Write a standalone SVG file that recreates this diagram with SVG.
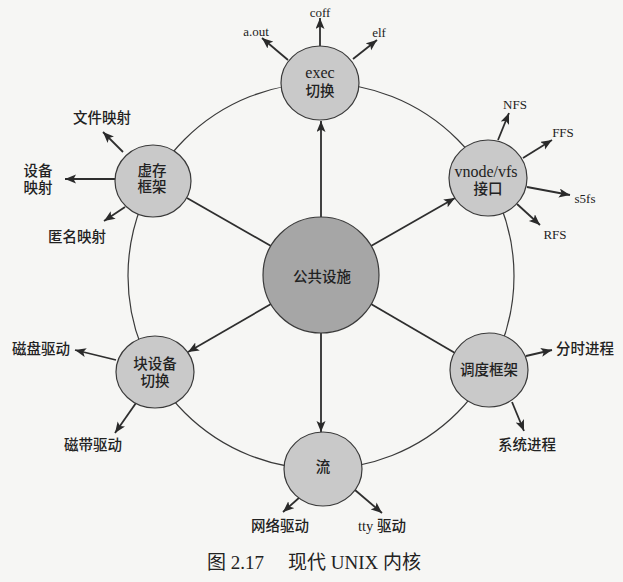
<svg xmlns="http://www.w3.org/2000/svg" width="623" height="582" viewBox="0 0 623 582">
<defs>
<marker id="ah" markerUnits="userSpaceOnUse" markerWidth="12" markerHeight="10" refX="11" refY="4.5" orient="auto">
<path d="M0,0 L11,4.5 L0,9 L2.5,4.5 Z" fill="#2a2a2a"/>
</marker>
<style>
.bg{fill:#f6f6f4}
.ring{fill:none;stroke:#3a3a3a;stroke-width:1.2}
.spoke{fill:none;stroke:#2e2e2e;stroke-width:1.8}
.out{fill:none;stroke:#2e2e2e;stroke-width:1.8;marker-end:url(#ah)}
.node{fill:#c9c9c9;stroke:#3a3a3a;stroke-width:1.2}
.hub{fill:#a6a6a6;stroke:#3a3a3a;stroke-width:1.2}
text{font-family:"Liberation Serif","Noto Sans CJK SC",serif;fill:#222;text-anchor:middle}
.lat{font-size:13px}
.nl{font-size:16px}
.zh{font-size:14.5px;font-weight:500}
.cap{font-size:19px;text-anchor:start}
</style>
</defs>
<rect class="bg" x="0" y="0" width="623" height="582"/>
<circle class="ring" cx="321" cy="276" r="193"/>
<g id="connectors">
<line class="out" x1="321" y1="217" x2="321" y2="121"/>
<line class="out" x1="321" y1="333" x2="321" y2="432"/>
<line class="out" x1="371" y1="246" x2="455" y2="198"/>
<line class="spoke" x1="271" y1="246" x2="187" y2="198"/>
<line class="out" x1="271" y1="304" x2="188" y2="352"/>
<line class="spoke" x1="371" y1="304" x2="455" y2="353"/>
<line class="out" x1="320" y1="47" x2="320" y2="18"/>
<line class="out" x1="288" y1="60" x2="262" y2="38"/>
<line class="out" x1="353" y1="59" x2="377" y2="40"/>
<line class="out" x1="498" y1="140" x2="509" y2="113"/>
<line class="out" x1="523" y1="158" x2="552" y2="140"/>
<line class="out" x1="527" y1="187" x2="570" y2="195"/>
<line class="out" x1="517" y1="204" x2="540" y2="225"/>
<line class="out" x1="123" y1="152" x2="103" y2="132"/>
<line class="out" x1="115" y1="179" x2="65" y2="179"/>
<line class="out" x1="125" y1="207" x2="104" y2="221"/>
<line class="out" x1="116" y1="360" x2="75" y2="350"/>
<line class="out" x1="136" y1="403" x2="115" y2="433"/>
<line class="out" x1="526" y1="356" x2="552" y2="350"/>
<line class="out" x1="512" y1="402" x2="524" y2="431"/>
<line class="out" x1="300" y1="497" x2="283" y2="512"/>
<line class="out" x1="355" y1="490" x2="382" y2="513"/>
</g>
<g id="hub">
<ellipse class="hub" cx="321" cy="275" rx="58" ry="58"/>
<text class="zh" x="322" y="282">公共设施</text>
</g>
<g id="exec">
<ellipse class="node" cx="320" cy="83" rx="39" ry="37"/>
<text class="nl" x="320" y="78">exec</text>
<text class="zh" x="320" y="96">切换</text>
</g>
<g id="vnode">
<ellipse class="node" cx="488" cy="178" rx="39" ry="38"/>
<text class="nl" x="486" y="177">vnode/vfs</text>
<text class="zh" x="488" y="193.5">接口</text>
</g>
<g id="vm">
<ellipse class="node" cx="153" cy="181" rx="38" ry="36"/>
<text class="zh" x="152" y="176">虚存</text>
<text class="zh" x="152" y="191.5">框架</text>
</g>
<g id="blk">
<ellipse class="node" cx="155" cy="372" rx="39" ry="36"/>
<text class="zh" x="155" y="368.5">块设备</text>
<text class="zh" x="155" y="385.5">切换</text>
</g>
<g id="sched">
<ellipse class="node" cx="489" cy="370" rx="39" ry="37"/>
<text class="zh" x="489" y="374.5">调度框架</text>
</g>
<g id="streams">
<ellipse class="node" cx="323" cy="469" rx="39" ry="37"/>
<text class="zh" x="323" y="472">流</text>
</g>
<g id="labels">
<text class="lat" x="320" y="16.5">coff</text>
<text class="lat" x="256" y="36">a.out</text>
<text class="lat" x="379" y="37">elf</text>
<text class="lat" x="515" y="108.5">NFS</text>
<text class="lat" x="563" y="137">FFS</text>
<text class="lat" x="585" y="202.5">s5fs</text>
<text class="lat" x="555" y="238.5">RFS</text>
<text class="zh" x="102" y="122.5">文件映射</text>
<text class="zh" x="38" y="176">设备</text>
<text class="zh" x="38" y="192.5">映射</text>
<text class="zh" x="77" y="242">匿名映射</text>
<text class="zh" x="41" y="353.5">磁盘驱动</text>
<text class="zh" x="93" y="450">磁带驱动</text>
<text class="zh" x="585" y="353.5">分时进程</text>
<text class="zh" x="527" y="450">系统进程</text>
<text class="zh" x="280" y="531">网络驱动</text>
<text class="zh" x="382" y="531">tty 驱动</text>
<text class="cap" y="568.5"><tspan x="207">图 2.17</tspan><tspan x="288">现代 UNIX 内核</tspan></text>
</g>
</svg>
